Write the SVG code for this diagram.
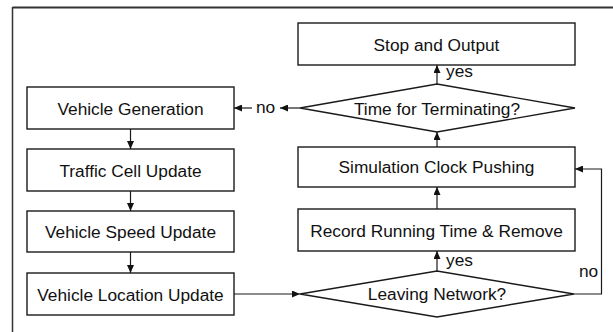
<svg xmlns="http://www.w3.org/2000/svg" width="613" height="332" viewBox="0 0 613 332">
<defs>
<marker id="ah" markerUnits="userSpaceOnUse" markerWidth="8" markerHeight="7" refX="8" refY="3.5" orient="auto">
<path d="M0,0 L8,3.5 L0,7 z" fill="#111"/>
</marker>
</defs>
<style>
.box{fill:#fff;stroke:#1a1a1a;stroke-width:1.4}
.t{font-family:"Liberation Sans",Arial,sans-serif;font-size:17.3px;fill:#111;text-anchor:middle}
.l{font-family:"Liberation Sans",Arial,sans-serif;font-size:17.3px;fill:#111}
.c{fill:none;stroke:#1a1a1a;stroke-width:1.2;marker-end:url(#ah)}
.f{fill:none;stroke:#333}
</style>
<rect width="613" height="332" fill="#fff"/>
<g id="frame">
<line class="f" x1="12.5" y1="7.5" x2="613" y2="7.5" stroke-width="2"/>
<line class="f" x1="12.5" y1="7" x2="12.5" y2="332" stroke-width="1.5"/>
</g>
<g id="stop"><rect class="box" x="298" y="23" width="277" height="42"/><text class="t" x="436.5" y="51">Stop and Output</text></g>
<g id="terminate"><polygon class="box" points="300,108 437,84 575,108 437,132"/><text class="t" x="437" y="114.5">Time for Terminating?</text></g>
<g id="clock"><rect class="box" x="298" y="147" width="277" height="40"/><text class="t" x="436.5" y="173">Simulation Clock Pushing</text></g>
<g id="record"><rect class="box" x="298" y="209" width="277" height="42"/><text class="t" x="436.5" y="236.5">Record Running Time &amp; Remove</text></g>
<g id="leaving"><polygon class="box" points="300,294 437,271 574,294 437,317"/><text class="t" x="437" y="300">Leaving Network?</text></g>
<g id="gen"><rect class="box" x="27" y="87" width="207" height="42"/><text class="t" x="130.5" y="114.5">Vehicle Generation</text></g>
<g id="cell"><rect class="box" x="27" y="149" width="207" height="42"/><text class="t" x="130.5" y="176.5">Traffic Cell Update</text></g>
<g id="speed"><rect class="box" x="27" y="211" width="207" height="41"/><text class="t" x="130.5" y="238">Vehicle Speed Update</text></g>
<g id="location"><rect class="box" x="27" y="273" width="207" height="42"/><text class="t" x="130.5" y="300.5">Vehicle Location Update</text></g>
<g id="connectors">
<line class="c" x1="130.5" y1="129" x2="130.5" y2="149"/>
<line class="c" x1="130.5" y1="191" x2="130.5" y2="211"/>
<line class="c" x1="130.5" y1="252" x2="130.5" y2="273"/>
<line class="c" x1="234" y1="294" x2="300" y2="294"/>
<line class="c" x1="437" y1="271" x2="437" y2="251"/>
<line class="c" x1="437" y1="209" x2="437" y2="187"/>
<line class="c" x1="437" y1="147" x2="437" y2="132"/>
<line class="c" x1="437" y1="84" x2="437" y2="65"/>
<polyline class="c" points="574,294 601.5,294 601.5,169 575,169"/>
<polyline class="c" points="300,108 280,108"/>
<line class="c" x1="252" y1="108" x2="234" y2="108"/>
<text class="l" x="446" y="76.5">yes</text>
<text class="l" x="446" y="265.5">yes</text>
<text class="l" x="256" y="113">no</text>
<text class="l" x="579" y="277">no</text>
</g>
</svg>
